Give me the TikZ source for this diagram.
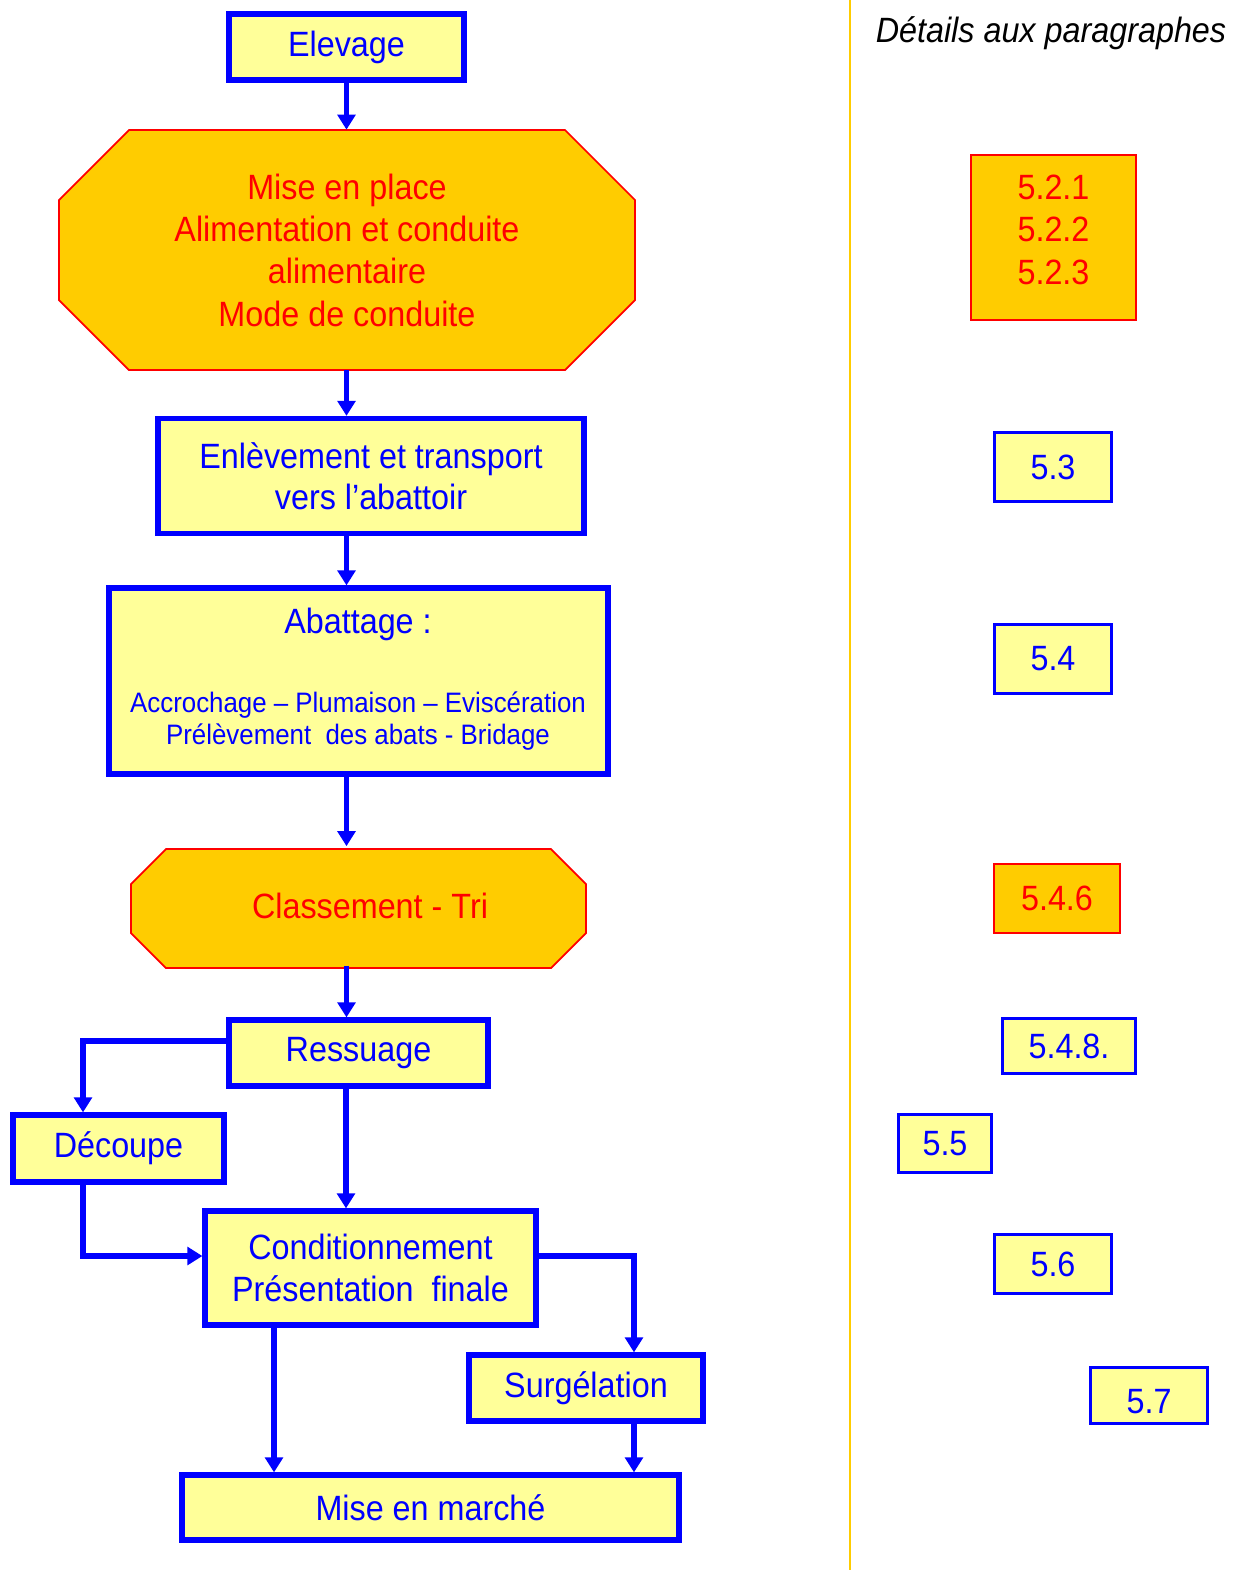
\documentclass[tikz,border=0pt]{standalone}
\usepackage{fontspec}
\setmainfont[FakeStretch=0.92]{Liberation Sans}
\usepackage{tikz}
\usetikzlibrary{arrows.meta}

\definecolor{bleu}{HTML}{0000FF}
\definecolor{jaune}{HTML}{FFFF99}
\definecolor{orangeclair}{HTML}{FFCC00}

\begin{document}
\begin{tikzpicture}[x=0.02cm,y=-0.02cm,
   etape/.style={draw=bleu,line width=3pt,fill=jaune,text=bleu,align=center,inner sep=0pt,
     font=\fontsize{20}{23.6}\selectfont},
   octo/.style={text=red,align=center,inner sep=0pt,font=\fontsize{20}{24.1}\selectfont},
   forme octo/.style={draw=red,line width=1pt,fill=orangeclair},
   para/.style={draw=bleu,line width=1.7pt,fill=jaune,text=bleu,inner sep=0pt,
     font=\fontsize{20}{24}\selectfont},
   para rouge/.style={draw=red,line width=1.2pt,fill=orangeclair,text=red,align=center,inner sep=0pt,
     font=\fontsize{20}{24.2}\selectfont},
   fleche/.style={draw=bleu,line width=3pt,-{Triangle[length=8.5pt,width=10pt]}}]
  \useasboundingbox (0,0) rectangle (1249,1570);

  % colonne de gauche
  \node[etape,minimum width=4.7cm,minimum height=1.32cm] (elev) at (346.5,47) {Elevage};

  \draw[forme octo] (59,200) -- (129,130) -- (565,130) -- (635,200) -- (635,300) -- (565,370) -- (129,370) -- (59,300) -- cycle;
  \node[octo,minimum width=11.52cm,minimum height=4.8cm] (place) at (347,250)
    {Mise en place\\Alimentation et conduite\\alimentaire\\Mode de conduite};

  \node[etape,minimum width=8.52cm,minimum height=2.3cm] (enl) at (371,476)
    {Enlèvement et transport\\vers l’abattoir};

  \node[etape,minimum width=9.98cm,minimum height=3.72cm] (abat) at (358.5,681) {};
  \node[text=bleu,font=\fontsize{20}{24}\selectfont] (abat t) at (358,624) {Abattage :};
  \node[text=bleu,align=center,font=\fontsize{16}{18.7}\selectfont] (abat s) at (358,721)
    {Accrochage – Plumaison – Eviscération\\Prélèvement~ des abats - Bridage};

  \draw[forme octo] (131,884) -- (166,849) -- (551,849) -- (586,884) -- (586,933) -- (551,968) -- (166,968) -- (131,933) -- cycle;
  \node[octo,minimum width=9.1cm,minimum height=2.38cm] (classe) at (370,906) {Classement - Tri};

  \node[etape,minimum width=5.18cm,minimum height=1.32cm] (ress) at (358.5,1053) {Ressuage};
  \node[etape,minimum width=4.22cm,minimum height=1.34cm] (dec) at (118.5,1148.5) {Découpe};
  \node[etape,minimum width=6.62cm,minimum height=2.28cm] (cond) at (370.5,1268)
    {Conditionnement\\Présentation~ finale};
  \node[etape,minimum width=4.68cm,minimum height=1.32cm] (surg) at (586,1388) {Surgélation};
  \node[etape,minimum width=9.94cm,minimum height=1.3cm] (marche) at (430.5,1507.5) {Mise en marché};

  \foreach \de/\vers in {elev/place,place/enl,enl/abat,abat/classe,classe/ress}
    \draw[fleche] (\de.south -| elev) -- (\vers.north -| elev);

  \draw[fleche] ([yshift=0.24cm]ress.west) -| ([xshift=-0.71cm]dec.north);
  \draw[fleche] ([xshift=-0.25cm]ress.south) -- ([xshift=-0.25cm]ress.south |- cond.north);
  \draw[fleche] ([xshift=-0.71cm]dec.south) |- ([yshift=0.24cm]cond.west);
  \draw[fleche] ([yshift=0.24cm]cond.east) -| ([xshift=0.96cm]surg.north);
  \draw[fleche] ([xshift=-1.93cm]cond.south) -- ([xshift=-1.93cm]cond.south |- marche.north);
  \draw[fleche] ([xshift=0.96cm]surg.south) -- ([xshift=0.96cm]surg.south |- marche.north);

  % colonne des paragraphes
  \draw[draw=orangeclair,line width=1.2pt] (850,0) -- (850,1570);
  \node[font=\itshape\fontsize{20}{24}\selectfont] (titre) at (1051,33) {Détails aux paragraphes};

  \node[para rouge,minimum width=3.3cm,minimum height=3.3cm,text depth=9pt] (p52) at (1053.5,237.5) {5.2.1\\5.2.2\\5.2.3};
  \node[para,minimum width=2.34cm,minimum height=1.38cm] (p53) at (1053,467) {5.3};
  \node[para,minimum width=2.34cm,minimum height=1.38cm] (p54) at (1053,659) {5.4};
  \node[para rouge,minimum width=2.52cm,minimum height=1.38cm] (p546) at (1057,898.5) {5.4.6};
  \node[para,minimum width=2.66cm,minimum height=1.1cm] (p548) at (1069,1046) {5.4.8.};
  \node[para,minimum width=1.86cm,minimum height=1.16cm] (p55) at (945,1143.5) {5.5};
  \node[para,minimum width=2.34cm,minimum height=1.18cm] (p56) at (1053,1264) {5.6};
  \node[para,minimum width=2.34cm,minimum height=1.12cm,text height=21pt] (p57) at (1149,1395.5) {5.7};
\end{tikzpicture}
\end{document}
